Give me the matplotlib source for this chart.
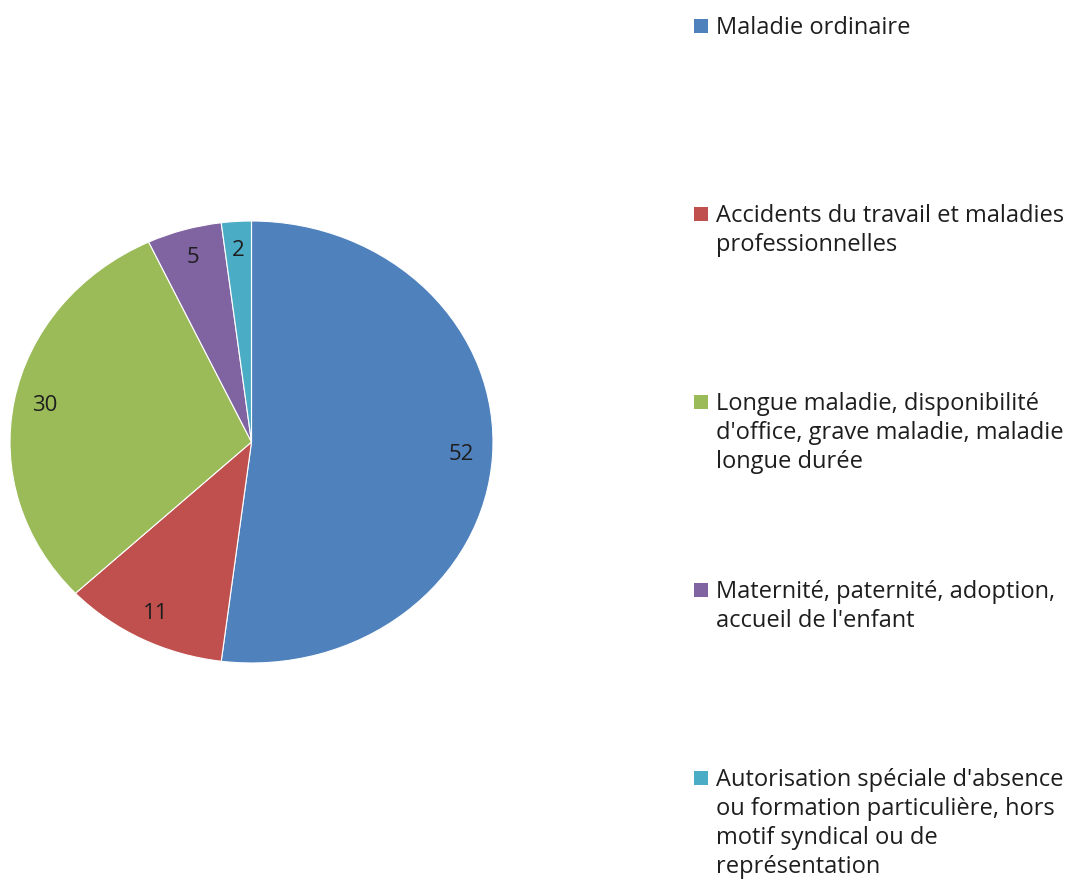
import numpy as np
import matplotlib.pyplot as plt
from matplotlib.patches import Rectangle

# valeurs
categories = [
    "Maladie ordinaire",
    "Accidents du travail et maladies\nprofessionnelles",
    "Longue maladie, disponibilité\nd'office, grave maladie, maladie\nlongue durée",
    "Maternité, paternité, adoption,\naccueil de l'enfant",
    "Autorisation spéciale d'absence\nou formation particulière, hors\nmotif syndical ou de\nreprésentation",
]
values = [52, 11, 30, 5, 2]
colors = ["#4F81BD", "#C0504D", "#9BBB59", "#8064A2", "#4BACC6"]

plt.rcParams['font.family'] = ['Open Sans', 'DejaVu Sans']
text_color = "#1e1e1e"

fig = plt.figure(figsize=(10.74, 8.81), dpi=100)
ax = fig.add_axes([10 / 1074, 218 / 881, 483 / 1074, 442 / 881])

wedges, texts = ax.pie(values, colors=colors, startangle=90, counterclock=False,
                       wedgeprops=dict(edgecolor="white", linewidth=0.8))
ax.set_aspect('auto')
ax.set_xlim(-1, 1)
ax.set_ylim(-1, 1)

# étiquettes de valeur
for w, v in zip(wedges, values):
    ang = np.deg2rad((w.theta1 + w.theta2) / 2)
    ax.text(0.87 * np.cos(ang), 0.87 * np.sin(ang), str(v), ha='center', va='center',
            fontsize=16, color=text_color)

# légende manuelle
cap_top = [17, 205, 393, 581, 769]
for lab, col, y in zip(categories, colors, cap_top):
    fig.patches.append(Rectangle((694 / 1074, 1 - (y + 16) / 881), 14 / 1074, 14 / 881,
                                 transform=fig.transFigure, facecolor=col, edgecolor='none'))
    fig.text(716 / 1074, 1 - (y - 1.5) / 881, lab, ha='left', va='top', fontsize=17,
             color=text_color, linespacing=1.28)

fig.savefig("out.png", dpi=100, facecolor="white")
